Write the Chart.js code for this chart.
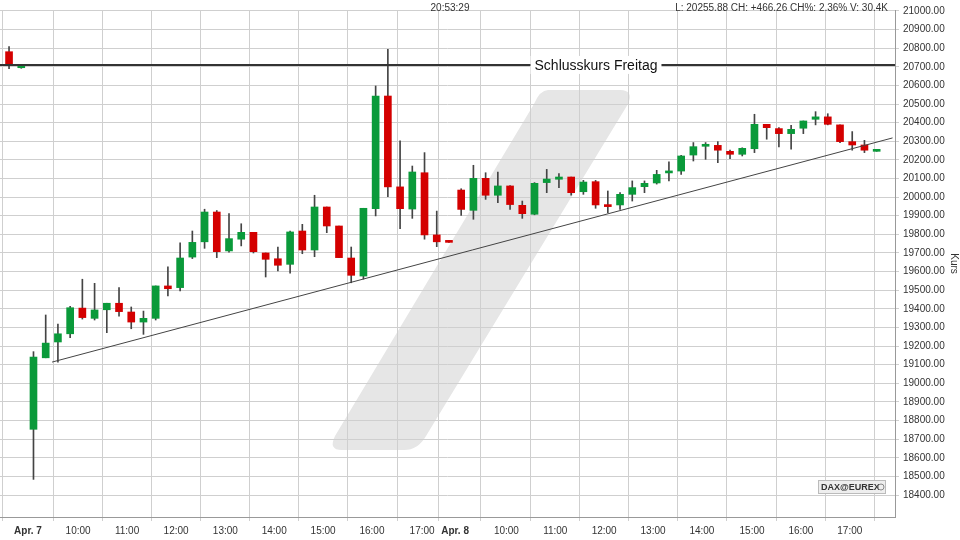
<!DOCTYPE html>
<html><head><meta charset="utf-8">
<script src="https://cdn.jsdelivr.net/npm/chart.js@4/dist/chart.umd.min.js"></script>
<style>html,body{margin:0;padding:0;background:#fff}#w{width:960px;height:540px}</style>
</head><body><div id="w"><canvas id="c"></canvas></div>
<script>
const opens  = [20781,20695,18753,19137,19222,19266,19404,19349,19395,19430,19383,19329,19349,19523,19514,19678,19760,19920,19711,19774,19811,19700,19669,19639,19818,19716,19947,19845,19673,19576,19938,20543,20055,19936,20131,19797,19765,20038,19929,20101,20010,20060,19956,19908,20078,20096,20108,20029,20083,19958,19958,20015,20056,20076,20130,20140,20226,20273,20278,20246,20230,20260,20391,20368,20341,20370,20418,20431,20388,20298,20280,20246];
const highs  = [20808,20708,19170,19367,19318,19414,19559,19537,19430,19514,19410,19388,19523,19625,19754,19818,19935,19928,19911,19857,19811,19700,19732,19818,19854,20010,19947,19845,19732,19940,20597,20794,20302,20167,20239,19925,19768,20045,20171,20131,20135,20062,19979,20078,20149,20126,20108,20090,20090,20033,20024,20087,20087,20144,20190,20225,20293,20293,20298,20252,20265,20445,20391,20373,20386,20409,20459,20448,20388,20352,20305,20250];
const lows   = [20690,20692,18484,19137,19114,19245,19345,19340,19272,19361,19293,19263,19340,19469,19496,19670,19725,19675,19705,19738,19700,19571,19603,19591,19696,19680,19809,19675,19540,19560,19899,20002,19830,19886,19774,19734,19757,19902,19881,19988,19970,19934,19886,19905,20024,20051,20010,20015,19940,19916,19934,19979,20024,20070,20087,20122,20194,20203,20185,20207,20221,20239,20311,20269,20257,20341,20388,20388,20293,20252,20239,20246];
const closes = [20708,20705,19141,19216,19266,19406,19353,19394,19430,19385,19329,19349,19523,19508,19673,19757,19920,19707,19777,19811,19707,19666,19634,19813,19716,19947,19845,19675,19580,19940,20543,20055,19938,20135,19797,19760,19757,19934,20101,20010,20060,19960,19911,20074,20097,20108,20024,20081,19958,19949,20015,20051,20074,20122,20135,20221,20271,20280,20252,20230,20262,20391,20373,20341,20364,20409,20431,20391,20298,20280,20252,20250];
const tickSlots  = [1.55,5.65,9.66,13.67,17.7,21.7,25.7,29.7,33.8,36.5,40.7,44.7,48.7,52.7,56.7,60.8,64.8,68.8];
const tickLabels = ['Apr. 7','10:00','11:00','12:00','13:00','14:00','15:00','16:00','17:00','Apr. 8','10:00','11:00','12:00','13:00','14:00','15:00','16:00','17:00'];
const closeFriday = 20710;
const trendX = [3.52, 72.3];
const trendY = [19114, 20318];
const headerTime = '20:53:29';
const headerInfo = 'L: 20255.88 CH: +466.26 CH%: 2.36% V: 30.4K';

const GREEN='#0a9a3a', RED='#d40000';
const slots = opens.map((_,i)=>i);
const isUp = i => closes[i] >= opens[i];
const wickData = slots.map(i=>({x:i,y:[lows[i],highs[i]]}));
const bodyData = slots.map(i=>({x:i,y:[Math.min(opens[i],closes[i]),Math.max(opens[i],closes[i])]}));

const deco = {
  id:'deco',
  beforeDraw(ch){
    const c=ch.ctx; c.save();
    c.fillStyle='#e6e6e6';
    c.beginPath();
    c.moveTo(548,90); c.lineTo(620,90); c.quadraticCurveTo(634,90,628,104);
    c.lineTo(426,436); c.quadraticCurveTo(418,450,404,450);
    c.lineTo(342,450); c.quadraticCurveTo(328,450,335,436);
    c.lineTo(534,104); c.quadraticCurveTo(540,90,548,90);
    c.closePath(); c.fill();
    c.restore();
  },
  afterDraw(ch){
    const c=ch.ctx; c.save();
    c.fillStyle='#333'; c.font='10px "Liberation Sans", Arial'; c.textBaseline='middle';
    c.textAlign='center'; c.fillText(headerTime,450,8);
    c.textAlign='right'; c.fillText(headerInfo,888,8);
    const y=ch.scales.y.getPixelForValue(closeFriday);
    c.font='14px "Liberation Sans", Arial';
    const t='Schlusskurs Freitag', w=c.measureText(t).width;
    c.fillStyle='#fff'; c.fillRect(596-w/2-4,y-9,w+8,18);
    c.fillStyle='#111'; c.textAlign='center'; c.fillText(t,596,y+1);
    c.fillStyle='#eeeeee'; c.fillRect(818,480,68,14);
    c.strokeStyle='#bbb'; c.lineWidth=1; c.strokeRect(818.5,480.5,67,13);
    c.fillStyle='#333'; c.font='bold 9px "Liberation Sans", Arial'; c.textAlign='left';
    c.fillText('DAX@EUREX',821,487.5);
    c.strokeStyle='#888'; c.beginPath(); c.arc(881,487,3,0,Math.PI*2); c.stroke();
    c.restore();
  }
};

new Chart(document.getElementById('c'),{
  type:'bar',
  data:{datasets:[
    {type:'line',data:[{x:-1,y:closeFriday},{x:73,y:closeFriday}],borderColor:'#333',borderWidth:2,pointRadius:0,order:0},
    {type:'line',data:trendX.map((x,i)=>({x,y:trendY[i]})),borderColor:'#444',borderWidth:1,pointRadius:0,order:0},
    {data:wickData,backgroundColor:'#444',barThickness:1,grouped:false,order:2},
    {data:bodyData,backgroundColor:slots.map(i=>isUp(i)?GREEN:RED),barThickness:7,minBarLength:2,grouped:false,order:1}
  ]},
  options:{
    responsive:true,maintainAspectRatio:false,animation:false,
    layout:{padding:0},
    plugins:{legend:{display:false},tooltip:{enabled:false}},
    scales:{
      x:{type:'linear',min:-0.74,max:72.5,offset:false,
        afterBuildTicks(s){s.ticks=tickSlots.map(v=>({value:v}));},
        afterFit(s){s.height=23;},
        ticks:{autoSkip:false,maxRotation:0,color:'#333',padding:4,
          callback(v,i){return tickLabels[i];},
          font(ctx){const l=tickLabels[ctx.index]||'';return {family:'"Liberation Sans", Arial',size:10,weight:l.startsWith('Apr')?'bold':'normal'};}},
        grid:{color:'#cfcfcf',borderDash:[2,2],drawTicks:true,tickLength:4},
        border:{display:true,color:'#999'}},
      y:{position:'right',min:18282,max:21005,
        afterBuildTicks(s){const t=[];for(let v=18400;v<=21000;v+=100)t.push({value:v});s.ticks=t;},
        afterFit(s){s.width=65;},
        ticks:{color:'#333',font:{family:'"Liberation Sans", Arial',size:10},padding:4,callback:v=>v.toFixed(2)},
        grid:{color:'#cfcfcf',borderDash:[2,2],tickLength:4},
        border:{display:true,color:'#999'},
        title:{display:true,text:'Kurs',color:'#333',font:{family:'"Liberation Sans", Arial',size:10},padding:0}}
    }
  },
  plugins:[deco]
});
</script></body></html>
